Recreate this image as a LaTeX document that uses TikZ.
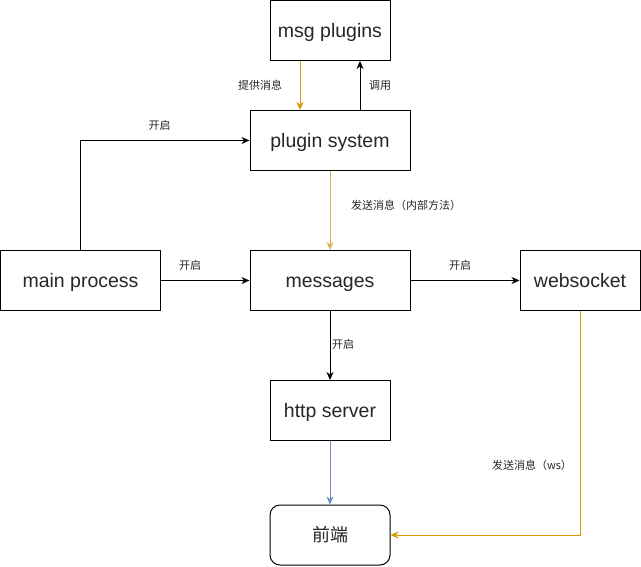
\documentclass[tikz,border=0pt]{standalone}
\usepackage{fontspec}
\setmainfont{Liberation Sans}
\newfontfamily\cjk{Noto Sans CJK SC}
\usetikzlibrary{arrows.meta}
\definecolor{orng}{HTML}{D79B00}
\definecolor{lorng}{HTML}{D6B656}
\definecolor{blu}{HTML}{6C8EBF}
\tikzset{
  box/.style={draw=black, line width=1pt, minimum height=60pt, inner sep=0pt, font=\fontsize{19.5}{22}\selectfont, text=black!85, text height=16pt, text depth=2pt},
  conn/.style={line width=1pt, -{Stealth[length=8pt,width=7pt,inset=2.5pt]}},
  lbl/.style={font=\cjk\fontsize{11}{13}\selectfont, text=black!85, inner sep=0pt},
}
\begin{document}
\begin{tikzpicture}[x=1pt,y=-1pt]
\useasboundingbox (0,0) rectangle (641,566);
\node[box, minimum width=120pt] (msgp) at (330,30.5) {msg plugins};
\node[box, minimum width=160pt] (ps) at (330,140.5) {plugin system};
\node[box, minimum width=160pt] (mp) at (80.5,280.5) {main process};
\node[box, minimum width=160pt] (msg) at (330,280.5) {messages};
\node[box, minimum width=120pt] (ws) at (580,280.5) {websocket};
\node[box, minimum width=120pt] (http) at (330,410.5) {http server};
\node[box, minimum width=120pt, rounded corners=10pt, font=\cjk\fontsize{18}{20}\selectfont, text height=15pt, text depth=2pt] (fe) at (330,535) {前端};

\draw[conn, orng] ([xshift=-30pt]msgp.south) -- ([xshift=-30pt]ps.north);
\draw[conn] ([xshift=30pt]ps.north) -- ([xshift=30pt]msgp.south);
\draw[conn] (mp.north) |- (ps.west);
\draw[conn] (mp) -- (msg);
\draw[conn, lorng] (ps) -- (msg);
\draw[conn] (msg) -- (ws);
\draw[conn] (msg) -- (http);
\draw[conn, blu] (http) -- (fe);
\draw[conn, orng] (ws.south) |- (fe.east);

\node[lbl] (l1) at (260,85) {提供消息};
\node[lbl] (l2) at (380,85) {调用};
\node[lbl] (l3) at (159.5,125) {开启};
\node[lbl] (l4) at (190,265) {开启};
\node[lbl] (l5) at (406,205) {发送消息（内部方法）};
\node[lbl] (l6) at (460,265) {开启};
\node[lbl] (l7) at (343,344) {开启};
\node[lbl] (l8) at (532,465) {发送消息（ws）};
\end{tikzpicture}
\end{document}
